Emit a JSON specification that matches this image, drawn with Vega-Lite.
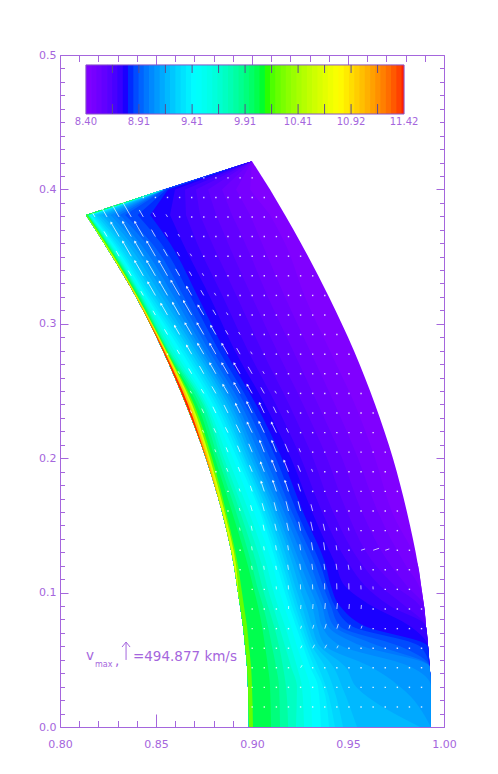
{"$schema":"https://vega.github.io/schema/vega-lite/v6.json","width":384,"height":672,"autosize":{"type":"none"},"padding":{"left":60,"top":55,"right":54,"bottom":47},"background":"white","config":{"view":{"stroke":null}},
"datasets":{
"field":[
{"y":0,"l":0.8984,"840":0.9932,"845":0.9932,"850":0.9932,"855":0.9932,"860":0.9932,"865":0.9932,"870":0.9932,"875":0.9932,"880":0.9932,"885":0.9932,"890":0.9932,"895":0.9932,"900":0.9932,"905":0.9932,"910":0.9932,"915":0.9875,"920":0.9547,"925":0.9474,"930":0.9432,"935":0.9401,"940":0.9359,"950":0.9313,"960":0.9271,"970":0.9229,"980":0.9188,"990":0.9146,"1000":0.9099,"1020":0.9005,"1060":0.8984,"1100":0.8984,"1140":0.8984},
{"y":0.03,"l":0.8979,"840":0.9932,"845":0.9932,"850":0.9932,"855":0.9932,"860":0.9932,"865":0.9932,"870":0.9932,"875":0.9932,"880":0.9932,"885":0.9932,"890":0.9932,"895":0.9932,"900":0.9932,"905":0.9932,"910":0.9771,"915":0.9542,"920":0.9469,"925":0.9422,"930":0.9385,"935":0.937,"940":0.9344,"950":0.9302,"960":0.926,"970":0.9234,"980":0.9177,"990":0.9141,"1000":0.9094,"1020":0.9,"1060":0.8979,"1100":0.8979,"1140":0.8979},
{"y":0.045,"l":0.8974,"840":0.9925,"845":0.9925,"850":0.9925,"855":0.9925,"860":0.9925,"865":0.9925,"870":0.9925,"875":0.9925,"880":0.9925,"885":0.9925,"890":0.9925,"895":0.9925,"900":0.9925,"905":0.9823,"910":0.9615,"915":0.9484,"920":0.9422,"925":0.938,"930":0.9344,"935":0.9323,"940":0.9302,"950":0.9271,"960":0.9234,"970":0.9203,"980":0.9161,"990":0.9125,"1000":0.9083,"1020":0.8995,"1060":0.8974,"1100":0.8974,"1140":0.8974},
{"y":0.06,"l":0.8964,"840":0.9917,"845":0.9917,"850":0.9917,"855":0.9917,"860":0.9917,"865":0.9917,"870":0.9917,"875":0.9917,"880":0.9917,"885":0.9875,"890":0.9771,"895":0.9667,"900":0.9578,"905":0.9469,"910":0.9385,"915":0.9354,"920":0.9333,"925":0.9313,"930":0.9297,"935":0.9281,"940":0.9266,"950":0.9234,"960":0.9203,"970":0.9172,"980":0.9141,"990":0.9104,"1000":0.9068,"1020":0.8984,"1060":0.8964,"1100":0.8964,"1140":0.8964},
{"y":0.075,"l":0.8953,"840":0.9906,"845":0.9906,"850":0.9906,"855":0.9906,"860":0.9906,"865":0.9906,"870":0.9906,"875":0.9823,"880":0.9589,"885":0.9521,"890":0.9458,"895":0.9427,"900":0.9396,"905":0.9365,"910":0.9339,"915":0.9313,"920":0.9292,"925":0.9276,"930":0.926,"935":0.9245,"940":0.9229,"950":0.9203,"960":0.9172,"970":0.9141,"980":0.9115,"990":0.9083,"1000":0.9052,"1020":0.8974,"1060":0.8953,"1100":0.8953,"1140":0.8953},
{"y":0.09,"l":0.8938,"840":0.9896,"845":0.9896,"850":0.9896,"855":0.9896,"860":0.9875,"865":0.9797,"870":0.9719,"875":0.9625,"880":0.9458,"885":0.9432,"890":0.9411,"895":0.9385,"900":0.9365,"905":0.9339,"910":0.9313,"915":0.9281,"920":0.926,"925":0.924,"930":0.9224,"935":0.9208,"940":0.9193,"950":0.9167,"960":0.9135,"970":0.9109,"980":0.9083,"990":0.9057,"1000":0.9031,"1020":0.8958,"1060":0.8938,"1100":0.8938,"1140":0.8938},
{"y":0.105,"l":0.8922,"840":0.9881,"845":0.9881,"850":0.987,"855":0.9807,"860":0.9745,"865":0.9667,"870":0.9589,"875":0.9484,"880":0.9411,"885":0.9391,"890":0.937,"895":0.9344,"900":0.9323,"905":0.9297,"910":0.9271,"915":0.9245,"920":0.9224,"925":0.9208,"930":0.9193,"935":0.9177,"940":0.9161,"950":0.9135,"960":0.9104,"970":0.9078,"980":0.9052,"990":0.9026,"1000":0.9005,"1020":0.8943,"1060":0.8927,"1100":0.8922,"1140":0.8922},
{"y":0.12,"l":0.8906,"840":0.9865,"845":0.9865,"850":0.9802,"855":0.9724,"860":0.9646,"865":0.9578,"870":0.951,"875":0.9438,"880":0.9385,"885":0.9359,"890":0.9333,"895":0.9307,"900":0.9281,"905":0.9255,"910":0.9234,"915":0.9214,"920":0.9193,"925":0.9177,"930":0.9161,"935":0.9146,"940":0.913,"950":0.9109,"960":0.9078,"970":0.9052,"980":0.9026,"990":0.9,"1000":0.8979,"1020":0.8927,"1060":0.8917,"1100":0.8906,"1140":0.8906},
{"y":0.16,"l":0.8844,"840":0.9807,"845":0.9729,"850":0.9656,"855":0.9573,"860":0.9495,"865":0.9422,"870":0.9365,"875":0.9313,"880":0.9266,"885":0.9234,"890":0.9208,"895":0.9188,"900":0.9167,"905":0.9148,"910":0.913,"915":0.9115,"920":0.9099,"925":0.9083,"930":0.9068,"935":0.9052,"940":0.9042,"950":0.901,"960":0.8984,"970":0.8958,"980":0.8938,"990":0.8917,"1000":0.8896,"1020":0.8865,"1060":0.8857,"1100":0.8844,"1140":0.8844},
{"y":0.2,"l":0.876,"840":0.9734,"845":0.9641,"850":0.9552,"855":0.9469,"860":0.9391,"865":0.9318,"870":0.9255,"875":0.9203,"880":0.9156,"885":0.9125,"890":0.9094,"895":0.907,"900":0.9047,"905":0.9028,"910":0.901,"915":0.8995,"920":0.8979,"925":0.8964,"930":0.8953,"935":0.8938,"940":0.8922,"950":0.8901,"960":0.8875,"970":0.8854,"980":0.8839,"990":0.8823,"1000":0.8807,"1020":0.8792,"1060":0.8781,"1100":0.8771,"1140":0.8762},
{"y":0.24,"l":0.8656,"840":0.9641,"845":0.9536,"850":0.9432,"855":0.9344,"860":0.9266,"865":0.9193,"870":0.9125,"875":0.9068,"880":0.9021,"885":0.8992,"890":0.8964,"895":0.8943,"900":0.8922,"905":0.8906,"910":0.8891,"915":0.8875,"920":0.8859,"925":0.8844,"930":0.8828,"935":0.8813,"940":0.8797,"950":0.8781,"960":0.8766,"970":0.8755,"980":0.8745,"990":0.8729,"1000":0.8714,"1020":0.8698,"1060":0.8688,"1100":0.8677,"1140":0.8667},
{"y":0.28,"l":0.8536,"840":0.9531,"845":0.9406,"850":0.9302,"855":0.9214,"860":0.913,"865":0.9052,"870":0.8979,"875":0.8911,"880":0.8859,"885":0.8828,"890":0.8797,"895":0.8776,"900":0.8755,"905":0.8739,"910":0.8724,"915":0.8708,"920":0.8693,"925":0.8677,"930":0.8661,"935":0.8646,"940":0.863,"950":0.8609,"960":0.8594,"970":0.8578,"980":0.8568,"990":0.8563,"1000":0.8557,"1020":0.8555,"1060":0.8552,"1100":0.8547,"1140":0.8542},
{"y":0.32,"l":0.8396,"840":0.9401,"845":0.9276,"850":0.9172,"855":0.9083,"860":0.9,"865":0.8922,"870":0.8849,"875":0.8781,"880":0.8719,"885":0.8682,"890":0.8646,"895":0.862,"900":0.8594,"905":0.8573,"910":0.8552,"915":0.8531,"920":0.851,"925":0.8495,"930":0.8479,"935":0.8464,"940":0.8453,"950":0.8443,"960":0.8432,"970":0.8427,"980":0.8422,"990":0.8417,"1000":0.8411,"1020":0.8406,"1060":0.8404,"1100":0.8401,"1140":0.8396},
{"y":0.36,"l":0.8229,"840":0.9255,"845":0.9172,"850":0.9052,"855":0.8964,"860":0.8875,"865":0.8792,"870":0.8714,"875":0.864,"880":0.8573,"885":0.8526,"890":0.8479,"895":0.8448,"900":0.8417,"905":0.8393,"910":0.837,"915":0.8349,"920":0.8328,"925":0.8313,"930":0.8297,"935":0.8286,"940":0.8276,"950":0.8266,"960":0.826,"970":0.8255,"980":0.825,"990":0.8245,"1000":0.8242,"1020":0.824,"1060":0.8234,"1100":0.8229,"1140":0.8229},
{"y":0.381,"l":0.8135,"840":0.9172,"845":0.9094,"850":0.899,"855":0.8896,"860":0.8813,"865":0.8729,"870":0.8656,"875":0.8573,"880":0.8469,"885":0.8404,"890":0.8339,"895":0.8312,"900":0.8286,"905":0.8263,"910":0.824,"915":0.8219,"920":0.8203,"925":0.8188,"930":0.8177,"935":0.8167,"940":0.8161,"950":0.8156,"960":0.8154,"970":0.8151,"980":0.8148,"990":0.8146,"1000":0.8143,"1020":0.8141,"1060":0.8135,"1100":0.8135,"1140":0.8135},
{"y":0.4,"l":0.8542,"840":0.9094,"845":0.899,"850":0.8917,"855":0.8844,"860":0.8771,"865":0.8708,"870":0.8651,"875":0.8599,"880":0.8563,"885":0.8555,"890":0.8547,"895":0.8544,"900":0.8542,"905":0.8542,"910":0.8542,"915":0.8542,"920":0.8542,"925":0.8542,"930":0.8542,"935":0.8542,"940":0.8542,"950":0.8542,"960":0.8542,"970":0.8542,"980":0.8542,"990":0.8542,"1000":0.8542,"1020":0.8542,"1060":0.8542,"1100":0.8542,"1140":0.8542},
{"y":0.421,"l":0.9,"840":0.9,"845":0.9,"850":0.9,"855":0.9,"860":0.9,"865":0.9,"870":0.9,"875":0.9,"880":0.9,"885":0.9,"890":0.9,"895":0.9,"900":0.9,"905":0.9,"910":0.9,"915":0.9,"920":0.9,"925":0.9,"930":0.9,"935":0.9,"940":0.9,"950":0.9,"960":0.9,"970":0.9,"980":0.9,"990":0.9,"1000":0.9,"1020":0.9,"1060":0.9,"1100":0.9,"1140":0.9}
],
"bar":[
{"v":840,"x":0.8135,"x2":0.8166},{"v":845,"x":0.8162,"x2":0.8194},{"v":850,"x":0.819,"x2":0.8221},{"v":855,"x":0.8217,"x2":0.8249},{"v":860,"x":0.8245,"x2":0.8276},{"v":865,"x":0.8272,"x2":0.8303},{"v":870,"x":0.8299,"x2":0.8331},{"v":875,"x":0.8327,"x2":0.8358},{"v":880,"x":0.8354,"x2":0.8386},{"v":885,"x":0.8382,"x2":0.8413},{"v":890,"x":0.8409,"x2":0.844},{"v":895,"x":0.8436,"x2":0.8468},{"v":900,"x":0.8464,"x2":0.8495},{"v":905,"x":0.8491,"x2":0.8523},{"v":910,"x":0.8519,"x2":0.855},{"v":915,"x":0.8546,"x2":0.8577},{"v":920,"x":0.8573,"x2":0.8605},{"v":925,"x":0.8601,"x2":0.8632},{"v":930,"x":0.8628,"x2":0.866},{"v":935,"x":0.8656,"x2":0.8687},{"v":940,"x":0.8683,"x2":0.8714},{"v":945,"x":0.871,"x2":0.8742},{"v":950,"x":0.8738,"x2":0.8769},{"v":955,"x":0.8765,"x2":0.8797},{"v":960,"x":0.8793,"x2":0.8824},{"v":965,"x":0.882,"x2":0.8851},{"v":970,"x":0.8847,"x2":0.8879},{"v":975,"x":0.8875,"x2":0.8906},{"v":980,"x":0.8902,"x2":0.8934},{"v":985,"x":0.893,"x2":0.8961},{"v":990,"x":0.8957,"x2":0.8988},{"v":995,"x":0.8984,"x2":0.9016},{"v":1000,"x":0.9012,"x2":0.9043},{"v":1005,"x":0.9039,"x2":0.9071},{"v":1010,"x":0.9067,"x2":0.9098},{"v":1015,"x":0.9094,"x2":0.9125},{"v":1020,"x":0.9121,"x2":0.9153},{"v":1025,"x":0.9149,"x2":0.918},{"v":1030,"x":0.9176,"x2":0.9208},{"v":1035,"x":0.9204,"x2":0.9235},{"v":1040,"x":0.9231,"x2":0.9262},{"v":1045,"x":0.9258,"x2":0.929},{"v":1050,"x":0.9286,"x2":0.9317},{"v":1055,"x":0.9313,"x2":0.9345},{"v":1060,"x":0.9341,"x2":0.9372},{"v":1065,"x":0.9368,"x2":0.9399},{"v":1070,"x":0.9395,"x2":0.9427},{"v":1075,"x":0.9423,"x2":0.9454},{"v":1080,"x":0.945,"x2":0.9482},{"v":1085,"x":0.9478,"x2":0.9509},{"v":1090,"x":0.9505,"x2":0.9536},{"v":1095,"x":0.9532,"x2":0.9564},{"v":1100,"x":0.956,"x2":0.9591},{"v":1105,"x":0.9587,"x2":0.9619},{"v":1110,"x":0.9615,"x2":0.9646},{"v":1115,"x":0.9642,"x2":0.9673},{"v":1120,"x":0.9669,"x2":0.9701},{"v":1125,"x":0.9697,"x2":0.9728},{"v":1130,"x":0.9724,"x2":0.9756},{"v":1135,"x":0.9752,"x2":0.9783},{"v":1140,"x":0.9779,"x2":0.9792}
],
"arrows":[
{"x":0.8182,"y":0.3795,"x2":0.8169,"y2":0.3827},{"x":0.8245,"y":0.3795,"x2":0.8219,"y2":0.3859,"a":-30},{"x":0.8308,"y":0.3795,"x2":0.8269,"y2":0.3892,"a":-30},{"x":0.8371,"y":0.3795,"x2":0.8324,"y2":0.3911,"a":-30},{"x":0.8434,"y":0.3795,"x2":0.8413,"y2":0.3847},{"x":0.8497,"y":0.3795,"x2":0.8484,"y2":0.3827},{"x":0.856,"y":0.3795,"x2":0.8552,"y2":0.3814},
{"x":0.8245,"y":0.3649,"x2":0.8229,"y2":0.3688},{"x":0.8308,"y":0.3649,"x2":0.8266,"y2":0.3752,"a":-30},{"x":0.8371,"y":0.3649,"x2":0.8327,"y2":0.3758,"a":-30},{"x":0.8434,"y":0.3649,"x2":0.839,"y2":0.3758,"a":-30},{"x":0.8497,"y":0.3649,"x2":0.8476,"y2":0.3701},{"x":0.856,"y":0.3649,"x2":0.8547,"y2":0.3681},{"x":0.8623,"y":0.3649,"x2":0.8615,"y2":0.3668},
{"x":0.8308,"y":0.3503,"x2":0.8292,"y2":0.3542},{"x":0.8371,"y":0.3503,"x2":0.8327,"y2":0.3612,"a":-30},{"x":0.8434,"y":0.3503,"x2":0.839,"y2":0.3612,"a":-30},{"x":0.8497,"y":0.3503,"x2":0.8453,"y2":0.3612,"a":-30},{"x":0.856,"y":0.3503,"x2":0.8539,"y2":0.3555},{"x":0.8623,"y":0.3503,"x2":0.861,"y2":0.3535},{"x":0.8686,"y":0.3503,"x2":0.8678,"y2":0.3522},
{"x":0.8371,"y":0.3357,"x2":0.8355,"y2":0.3396},{"x":0.8434,"y":0.3357,"x2":0.839,"y2":0.3466,"a":-30},{"x":0.8497,"y":0.3357,"x2":0.8453,"y2":0.3466,"a":-30},{"x":0.856,"y":0.3357,"x2":0.8516,"y2":0.3466,"a":-30},{"x":0.8623,"y":0.3357,"x2":0.8602,"y2":0.3409},{"x":0.8686,"y":0.3357,"x2":0.8673,"y2":0.3389},{"x":0.8749,"y":0.3357,"x2":0.8741,"y2":0.3376},
{"x":0.8434,"y":0.3211,"x2":0.8421,"y2":0.3243},{"x":0.8497,"y":0.3211,"x2":0.8458,"y2":0.3308,"a":-30},{"x":0.856,"y":0.3211,"x2":0.8518,"y2":0.3314,"a":-30},{"x":0.8623,"y":0.3211,"x2":0.8579,"y2":0.332,"a":-30},{"x":0.8686,"y":0.3211,"x2":0.866,"y2":0.3275,"a":-30},{"x":0.8749,"y":0.3211,"x2":0.8733,"y2":0.325},{"x":0.8812,"y":0.3211,"x2":0.8804,"y2":0.323},
{"x":0.8497,"y":0.3065,"x2":0.8484,"y2":0.3097},{"x":0.856,"y":0.3065,"x2":0.8526,"y2":0.3149,"a":-30},{"x":0.8623,"y":0.3065,"x2":0.8587,"y2":0.3155,"a":-30},{"x":0.8686,"y":0.3065,"x2":0.8644,"y2":0.3168,"a":-30},{"x":0.8749,"y":0.3065,"x2":0.872,"y2":0.3136,"a":-30},{"x":0.8812,"y":0.3065,"x2":0.8796,"y2":0.3104},{"x":0.8875,"y":0.3065,"x2":0.8867,"y2":0.3084},
{"x":0.856,"y":0.292,"x2":0.8544,"y2":0.2959},{"x":0.8623,"y":0.292,"x2":0.8597,"y2":0.2984,"a":-30},{"x":0.8686,"y":0.292,"x2":0.8652,"y2":0.3004,"a":-30},{"x":0.8749,"y":0.292,"x2":0.8715,"y2":0.3004,"a":-30},{"x":0.8812,"y":0.292,"x2":0.8786,"y2":0.2984,"a":-30},{"x":0.8875,"y":0.292,"x2":0.8862,"y2":0.2952},{"x":0.8938,"y":0.292,"x2":0.893,"y2":0.2939},
{"x":0.8623,"y":0.2774,"x2":0.861,"y2":0.2806},{"x":0.8686,"y":0.2774,"x2":0.866,"y2":0.2838,"a":-30},{"x":0.8749,"y":0.2774,"x2":0.8718,"y2":0.2851,"a":-30},{"x":0.8812,"y":0.2774,"x2":0.8781,"y2":0.2851,"a":-30},{"x":0.8875,"y":0.2774,"x2":0.8844,"y2":0.2851,"a":-30},{"x":0.8938,"y":0.2774,"x2":0.892,"y2":0.2819},{"x":0.9001,"y":0.2774,"x2":0.8993,"y2":0.2793},
{"x":0.8623,"y":0.2628,"x2":0.8615,"y2":0.2647},{"x":0.8686,"y":0.2628,"x2":0.867,"y2":0.2667},{"x":0.8749,"y":0.2628,"x2":0.8726,"y2":0.2686},{"x":0.8812,"y":0.2628,"x2":0.8781,"y2":0.2705,"a":-30},{"x":0.8875,"y":0.2628,"x2":0.8844,"y2":0.2705,"a":-30},{"x":0.8938,"y":0.2628,"x2":0.8907,"y2":0.2705,"a":-30},{"x":0.9001,"y":0.2628,"x2":0.898,"y2":0.268},{"x":0.9064,"y":0.2628,"x2":0.9056,"y2":0.2647},
{"x":0.8686,"y":0.2482,"x2":0.8678,"y2":0.2501},{"x":0.8749,"y":0.2482,"x2":0.8736,"y2":0.2514},{"x":0.8812,"y":0.2482,"x2":0.8791,"y2":0.2534},{"x":0.8875,"y":0.2482,"x2":0.8849,"y2":0.2546,"a":-30},{"x":0.8938,"y":0.2482,"x2":0.8907,"y2":0.2559,"a":-30},{"x":0.9001,"y":0.2482,"x2":0.8975,"y2":0.2546,"a":-30},{"x":0.9064,"y":0.2482,"x2":0.9046,"y2":0.2527},{"x":0.9127,"y":0.2482,"x2":0.9119,"y2":0.2501},
{"x":0.8686,"y":0.2336,"x2":0.8679,"y2":0.2356},{"x":0.8749,"y":0.2336,"x2":0.8738,"y2":0.2369},{"x":0.8812,"y":0.2336,"x2":0.8796,"y2":0.2383},{"x":0.8875,"y":0.2336,"x2":0.8854,"y2":0.2396},{"x":0.8938,"y":0.2336,"x2":0.8915,"y2":0.2403,"a":-26},{"x":0.9001,"y":0.2336,"x2":0.8974,"y2":0.2416,"a":-26},{"x":0.9064,"y":0.2336,"x2":0.9039,"y2":0.241,"a":-26},{"x":0.9127,"y":0.2336,"x2":0.9111,"y2":0.2383},{"x":0.919,"y":0.2336,"x2":0.9183,"y2":0.2356},
{"x":0.8749,"y":0.219,"x2":0.8742,"y2":0.221},{"x":0.8812,"y":0.219,"x2":0.8801,"y2":0.2223},{"x":0.8875,"y":0.219,"x2":0.8861,"y2":0.223},{"x":0.8938,"y":0.219,"x2":0.8917,"y2":0.225},{"x":0.9001,"y":0.219,"x2":0.8976,"y2":0.2264,"a":-26},{"x":0.9064,"y":0.219,"x2":0.9037,"y2":0.227,"a":-26},{"x":0.9127,"y":0.219,"x2":0.9102,"y2":0.2264,"a":-26},{"x":0.919,"y":0.219,"x2":0.9179,"y2":0.2223},
{"x":0.8812,"y":0.2045,"x2":0.8806,"y2":0.2066},{"x":0.8875,"y":0.2045,"x2":0.8865,"y2":0.208},{"x":0.8938,"y":0.2045,"x2":0.8924,"y2":0.2093},{"x":0.9001,"y":0.2045,"x2":0.8983,"y2":0.2107},{"x":0.9064,"y":0.2045,"x2":0.9041,"y2":0.2128,"a":-22},{"x":0.9127,"y":0.2045,"x2":0.9104,"y2":0.2128,"a":-22},{"x":0.919,"y":0.2045,"x2":0.9172,"y2":0.2107},{"x":0.9253,"y":0.2045,"x2":0.9245,"y2":0.2073},
{"x":0.8875,"y":0.1899,"x2":0.8867,"y2":0.1927},{"x":0.8938,"y":0.1899,"x2":0.8928,"y2":0.1934},{"x":0.9001,"y":0.1899,"x2":0.8987,"y2":0.1947},{"x":0.9064,"y":0.1899,"x2":0.9045,"y2":0.1968,"a":-22},{"x":0.9127,"y":0.1899,"x2":0.9104,"y2":0.1982,"a":-22},{"x":0.919,"y":0.1899,"x2":0.9167,"y2":0.1982,"a":-22},{"x":0.9253,"y":0.1899,"x2":0.9239,"y2":0.1947},{"x":0.9316,"y":0.1899,"x2":0.931,"y2":0.192},
{"x":0.8938,"y":0.1753,"x2":0.8933,"y2":0.1774},{"x":0.9001,"y":0.1753,"x2":0.8991,"y2":0.1795},{"x":0.9064,"y":0.1753,"x2":0.9048,"y2":0.1824,"a":-18},{"x":0.9127,"y":0.1753,"x2":0.9109,"y2":0.1831,"a":-18},{"x":0.919,"y":0.1753,"x2":0.9172,"y2":0.1831,"a":-18},{"x":0.9253,"y":0.1753,"x2":0.924,"y2":0.181},
{"x":0.8938,"y":0.1607,"x2":0.8934,"y2":0.1629},{"x":0.9001,"y":0.1607,"x2":0.8993,"y2":0.165},{"x":0.9064,"y":0.1607,"x2":0.9053,"y2":0.1665},{"x":0.9127,"y":0.1607,"x2":0.9115,"y2":0.1672},{"x":0.919,"y":0.1607,"x2":0.9177,"y2":0.1679},{"x":0.9253,"y":0.1607,"x2":0.924,"y2":0.1679},{"x":0.9316,"y":0.1607,"x2":0.9307,"y2":0.1657},
{"x":0.8938,"y":0.1461,"x2":0.8935,"y2":0.1483},{"x":0.9001,"y":0.1461,"x2":0.8996,"y2":0.1497},{"x":0.9064,"y":0.1461,"x2":0.9058,"y2":0.1505},{"x":0.9127,"y":0.1461,"x2":0.9119,"y2":0.1512},{"x":0.919,"y":0.1461,"x2":0.9181,"y2":0.1519},{"x":0.9253,"y":0.1461,"x2":0.9243,"y2":0.1527},{"x":0.9316,"y":0.1461,"x2":0.9306,"y2":0.1527},{"x":0.9379,"y":0.1461,"x2":0.9371,"y2":0.1512},{"x":0.9442,"y":0.1461,"x2":0.9439,"y2":0.1483},{"x":0.9505,"y":0.1461,"x2":0.9502,"y2":0.1483},
{"x":0.9001,"y":0.1315,"x2":0.8998,"y2":0.1344},{"x":0.9064,"y":0.1315,"x2":0.9061,"y2":0.1344},{"x":0.9127,"y":0.1315,"x2":0.9123,"y2":0.1352},{"x":0.919,"y":0.1315,"x2":0.9186,"y2":0.1352},{"x":0.9253,"y":0.1315,"x2":0.9249,"y2":0.1359},{"x":0.9316,"y":0.1315,"x2":0.931,"y2":0.1374},{"x":0.9379,"y":0.1315,"x2":0.9373,"y2":0.1374},{"x":0.9442,"y":0.1315,"x2":0.9438,"y2":0.1352},{"x":0.9568,"y":0.1315,"x2":0.9589,"y2":0.1325},{"x":0.9631,"y":0.1315,"x2":0.9662,"y2":0.133},{"x":0.9694,"y":0.1315,"x2":0.9715,"y2":0.1325},
{"x":0.9001,"y":0.117,"x2":0.8998,"y2":0.1199},{"x":0.9064,"y":0.117,"x2":0.9061,"y2":0.1199},{"x":0.9127,"y":0.117,"x2":0.9124,"y2":0.1199},{"x":0.919,"y":0.117,"x2":0.9186,"y2":0.1207},{"x":0.9253,"y":0.117,"x2":0.9249,"y2":0.1214},{"x":0.9316,"y":0.117,"x2":0.9312,"y2":0.1214},{"x":0.9379,"y":0.117,"x2":0.9375,"y2":0.1214},{"x":0.9442,"y":0.117,"x2":0.9438,"y2":0.1214},{"x":0.9505,"y":0.117,"x2":0.9501,"y2":0.1207},{"x":0.9568,"y":0.117,"x2":0.9565,"y2":0.1199},
{"x":0.9127,"y":0.1024,"x2":0.9126,"y2":0.1046},{"x":0.919,"y":0.1024,"x2":0.9189,"y2":0.1054},{"x":0.9253,"y":0.1024,"x2":0.9252,"y2":0.1061},{"x":0.9316,"y":0.1024,"x2":0.9315,"y2":0.1061},{"x":0.9379,"y":0.1024,"x2":0.9378,"y2":0.1069},{"x":0.9442,"y":0.1024,"x2":0.9441,"y2":0.1069},{"x":0.9505,"y":0.1024,"x2":0.9504,"y2":0.1069},{"x":0.9568,"y":0.1024,"x2":0.9567,"y2":0.1054},{"x":0.9631,"y":0.1024,"x2":0.963,"y2":0.1046},
{"x":0.919,"y":0.0878,"x2":0.9191,"y2":0.09},{"x":0.9253,"y":0.0878,"x2":0.9255,"y2":0.0908},{"x":0.9316,"y":0.0878,"x2":0.9318,"y2":0.0915},{"x":0.9379,"y":0.0878,"x2":0.9382,"y2":0.0922},{"x":0.9442,"y":0.0878,"x2":0.9445,"y2":0.0922},{"x":0.9505,"y":0.0878,"x2":0.9507,"y2":0.0915},{"x":0.9568,"y":0.0878,"x2":0.957,"y2":0.0908},
{"x":0.9253,"y":0.0732,"x2":0.9258,"y2":0.0753},{"x":0.9316,"y":0.0732,"x2":0.9322,"y2":0.076},{"x":0.9379,"y":0.0732,"x2":0.9387,"y2":0.0767},{"x":0.9442,"y":0.0732,"x2":0.945,"y2":0.0767},{"x":0.9505,"y":0.0732,"x2":0.9511,"y2":0.076},{"x":0.9568,"y":0.0732,"x2":0.9573,"y2":0.0753},
{"x":0.9253,"y":0.0586,"x2":0.926,"y2":0.0606},{"x":0.9316,"y":0.0586,"x2":0.9326,"y2":0.0612},{"x":0.9379,"y":0.0586,"x2":0.9389,"y2":0.0612},{"x":0.9442,"y":0.0586,"x2":0.9449,"y2":0.0606},
{"x":0.9253,"y":0.0441,"x2":0.9261,"y2":0.046}
],
"dots":[
{"x":0.9001,"y":0.0149},{"x":0.9064,"y":0.0149},{"x":0.9127,"y":0.0149},{"x":0.919,"y":0.0149},{"x":0.9253,"y":0.0149},{"x":0.9316,"y":0.0149},{"x":0.9379,"y":0.0149},{"x":0.9442,"y":0.0149},{"x":0.9505,"y":0.0149},{"x":0.9568,"y":0.0149},{"x":0.9631,"y":0.0149},{"x":0.9694,"y":0.0149},{"x":0.9757,"y":0.0149},{"x":0.982,"y":0.0149},{"x":0.9883,"y":0.0149},
{"x":0.9001,"y":0.0295},{"x":0.9064,"y":0.0295},{"x":0.9127,"y":0.0295},{"x":0.919,"y":0.0295},{"x":0.9253,"y":0.0295},{"x":0.9316,"y":0.0295},{"x":0.9379,"y":0.0295},{"x":0.9442,"y":0.0295},{"x":0.9505,"y":0.0295},{"x":0.9568,"y":0.0295},{"x":0.9631,"y":0.0295},{"x":0.9694,"y":0.0295},{"x":0.9757,"y":0.0295},{"x":0.982,"y":0.0295},{"x":0.9883,"y":0.0295},
{"x":0.9001,"y":0.0441},{"x":0.9064,"y":0.0441},{"x":0.9127,"y":0.0441},{"x":0.919,"y":0.0441},{"x":0.9316,"y":0.0441},{"x":0.9379,"y":0.0441},{"x":0.9442,"y":0.0441},{"x":0.9505,"y":0.0441},{"x":0.9568,"y":0.0441},{"x":0.9631,"y":0.0441},{"x":0.9694,"y":0.0441},{"x":0.9757,"y":0.0441},{"x":0.982,"y":0.0441},{"x":0.9883,"y":0.0441},
{"x":0.9001,"y":0.0586},{"x":0.9064,"y":0.0586},{"x":0.9127,"y":0.0586},{"x":0.919,"y":0.0586},{"x":0.9505,"y":0.0586},{"x":0.9568,"y":0.0586},{"x":0.9631,"y":0.0586},{"x":0.9694,"y":0.0586},{"x":0.9757,"y":0.0586},{"x":0.982,"y":0.0586},{"x":0.9883,"y":0.0586},
{"x":0.9001,"y":0.0732},{"x":0.9064,"y":0.0732},{"x":0.9127,"y":0.0732},{"x":0.919,"y":0.0732},{"x":0.9631,"y":0.0732},{"x":0.9694,"y":0.0732},{"x":0.9757,"y":0.0732},{"x":0.982,"y":0.0732},{"x":0.9883,"y":0.0732},
{"x":0.9001,"y":0.0878},{"x":0.9064,"y":0.0878},{"x":0.9127,"y":0.0878},{"x":0.9631,"y":0.0878},{"x":0.9694,"y":0.0878},{"x":0.9757,"y":0.0878},{"x":0.982,"y":0.0878},{"x":0.9883,"y":0.0878},
{"x":0.9001,"y":0.1024},{"x":0.9064,"y":0.1024},{"x":0.9694,"y":0.1024},{"x":0.9757,"y":0.1024},{"x":0.982,"y":0.1024},
{"x":0.8938,"y":0.117},{"x":0.9631,"y":0.117},{"x":0.9694,"y":0.117},{"x":0.9757,"y":0.117},{"x":0.982,"y":0.117},
{"x":0.8938,"y":0.1315},{"x":0.9505,"y":0.1315},{"x":0.9757,"y":0.1315},{"x":0.982,"y":0.1315},
{"x":0.9568,"y":0.1461},{"x":0.9631,"y":0.1461},{"x":0.9694,"y":0.1461},{"x":0.9757,"y":0.1461},
{"x":0.8875,"y":0.1607},{"x":0.9379,"y":0.1607},{"x":0.9442,"y":0.1607},{"x":0.9505,"y":0.1607},{"x":0.9568,"y":0.1607},{"x":0.9631,"y":0.1607},{"x":0.9694,"y":0.1607},{"x":0.9757,"y":0.1607},
{"x":0.8875,"y":0.1753},{"x":0.9316,"y":0.1753},{"x":0.9379,"y":0.1753},{"x":0.9442,"y":0.1753},{"x":0.9505,"y":0.1753},{"x":0.9568,"y":0.1753},{"x":0.9631,"y":0.1753},{"x":0.9694,"y":0.1753},{"x":0.9757,"y":0.1753},
{"x":0.8812,"y":0.1899},{"x":0.9379,"y":0.1899},{"x":0.9442,"y":0.1899},{"x":0.9505,"y":0.1899},{"x":0.9568,"y":0.1899},{"x":0.9631,"y":0.1899},{"x":0.9694,"y":0.1899},
{"x":0.9316,"y":0.2045},{"x":0.9379,"y":0.2045},{"x":0.9442,"y":0.2045},{"x":0.9505,"y":0.2045},{"x":0.9568,"y":0.2045},{"x":0.9631,"y":0.2045},{"x":0.9694,"y":0.2045},
{"x":0.9253,"y":0.219},{"x":0.9316,"y":0.219},{"x":0.9379,"y":0.219},{"x":0.9442,"y":0.219},{"x":0.9505,"y":0.219},{"x":0.9568,"y":0.219},{"x":0.9631,"y":0.219},
{"x":0.9253,"y":0.2336},{"x":0.9316,"y":0.2336},{"x":0.9379,"y":0.2336},{"x":0.9442,"y":0.2336},{"x":0.9505,"y":0.2336},{"x":0.9568,"y":0.2336},{"x":0.9631,"y":0.2336},
{"x":0.919,"y":0.2482},{"x":0.9253,"y":0.2482},{"x":0.9316,"y":0.2482},{"x":0.9379,"y":0.2482},{"x":0.9442,"y":0.2482},{"x":0.9505,"y":0.2482},{"x":0.9568,"y":0.2482},
{"x":0.9127,"y":0.2628},{"x":0.919,"y":0.2628},{"x":0.9253,"y":0.2628},{"x":0.9316,"y":0.2628},{"x":0.9379,"y":0.2628},{"x":0.9442,"y":0.2628},{"x":0.9505,"y":0.2628},
{"x":0.856,"y":0.2774},{"x":0.9064,"y":0.2774},{"x":0.9127,"y":0.2774},{"x":0.919,"y":0.2774},{"x":0.9253,"y":0.2774},{"x":0.9316,"y":0.2774},{"x":0.9379,"y":0.2774},{"x":0.9442,"y":0.2774},{"x":0.9505,"y":0.2774},
{"x":0.9001,"y":0.292},{"x":0.9064,"y":0.292},{"x":0.9127,"y":0.292},{"x":0.919,"y":0.292},{"x":0.9253,"y":0.292},{"x":0.9316,"y":0.292},{"x":0.9379,"y":0.292},{"x":0.9442,"y":0.292},
{"x":0.8938,"y":0.3065},{"x":0.9001,"y":0.3065},{"x":0.9064,"y":0.3065},{"x":0.9127,"y":0.3065},{"x":0.919,"y":0.3065},{"x":0.9253,"y":0.3065},{"x":0.9316,"y":0.3065},{"x":0.9379,"y":0.3065},
{"x":0.8875,"y":0.3211},{"x":0.8938,"y":0.3211},{"x":0.9001,"y":0.3211},{"x":0.9064,"y":0.3211},{"x":0.9127,"y":0.3211},{"x":0.919,"y":0.3211},{"x":0.9253,"y":0.3211},{"x":0.9316,"y":0.3211},{"x":0.9379,"y":0.3211},
{"x":0.8812,"y":0.3357},{"x":0.8875,"y":0.3357},{"x":0.8938,"y":0.3357},{"x":0.9001,"y":0.3357},{"x":0.9064,"y":0.3357},{"x":0.9127,"y":0.3357},{"x":0.919,"y":0.3357},{"x":0.9253,"y":0.3357},{"x":0.9316,"y":0.3357},
{"x":0.8749,"y":0.3503},{"x":0.8812,"y":0.3503},{"x":0.8875,"y":0.3503},{"x":0.8938,"y":0.3503},{"x":0.9001,"y":0.3503},{"x":0.9064,"y":0.3503},{"x":0.9127,"y":0.3503},{"x":0.919,"y":0.3503},{"x":0.9253,"y":0.3503},
{"x":0.8686,"y":0.3649},{"x":0.8749,"y":0.3649},{"x":0.8812,"y":0.3649},{"x":0.8875,"y":0.3649},{"x":0.8938,"y":0.3649},{"x":0.9001,"y":0.3649},{"x":0.9064,"y":0.3649},{"x":0.9127,"y":0.3649},{"x":0.919,"y":0.3649},
{"x":0.8623,"y":0.3795},{"x":0.8686,"y":0.3795},{"x":0.8749,"y":0.3795},{"x":0.8812,"y":0.3795},{"x":0.8875,"y":0.3795},{"x":0.8938,"y":0.3795},{"x":0.9001,"y":0.3795},{"x":0.9064,"y":0.3795},{"x":0.9127,"y":0.3795},
{"x":0.8434,"y":0.394},{"x":0.8497,"y":0.394},{"x":0.856,"y":0.394},{"x":0.8623,"y":0.394},{"x":0.8686,"y":0.394},{"x":0.8749,"y":0.394},{"x":0.8812,"y":0.394},{"x":0.8875,"y":0.394},{"x":0.8938,"y":0.394},{"x":0.9001,"y":0.394},{"x":0.9064,"y":0.394},
{"x":0.8749,"y":0.4086},{"x":0.8812,"y":0.4086},{"x":0.8875,"y":0.4086},{"x":0.8938,"y":0.4086},{"x":0.9001,"y":0.4086}
],
"barticks":[
{"x":0.8273,"y":0.4926,"y2":0.4866},{"x":0.8411,"y":0.4926,"y2":0.4866},{"x":0.8549,"y":0.4926,"y2":0.4866},{"x":0.8688,"y":0.4926,"y2":0.4866},{"x":0.8826,"y":0.4926,"y2":0.4866},{"x":0.8964,"y":0.4926,"y2":0.4866},{"x":0.9102,"y":0.4926,"y2":0.4866},{"x":0.924,"y":0.4926,"y2":0.4866},{"x":0.9378,"y":0.4926,"y2":0.4866},{"x":0.9516,"y":0.4926,"y2":0.4866},{"x":0.9654,"y":0.4926,"y2":0.4866},
{"x":0.8273,"y":0.4561,"y2":0.4635},{"x":0.8411,"y":0.4561,"y2":0.4635},{"x":0.8549,"y":0.4561,"y2":0.4635},{"x":0.8688,"y":0.4561,"y2":0.4635},{"x":0.8826,"y":0.4561,"y2":0.4635},{"x":0.8964,"y":0.4561,"y2":0.4635},{"x":0.9102,"y":0.4561,"y2":0.4635},{"x":0.924,"y":0.4561,"y2":0.4635},{"x":0.9378,"y":0.4561,"y2":0.4635},{"x":0.9516,"y":0.4561,"y2":0.4635},{"x":0.9654,"y":0.4561,"y2":0.4635}
]
},
"layer":[
{"data":{"name":"field"},"transform":[{"filter":"datum.y<=0.381"},{"fold":["840","845","850","855","860","865","870","875","880","885","890","895","900","905","910","915","920","925","930","935","940","950","960","970","980","990","1000","1020","1060","1100","1140"],"as":["level","edge"]}],
"mark":{"type":"area","orient":"horizontal","interpolate":"monotone","clip":false},
"encoding":{
"y":{"field":"y","type":"quantitative","scale":{"domain":[0,0.5],"nice":false},
"axis":{"orient":"left","title":null,"values":[0,0.01,0.02,0.03,0.04,0.05,0.06,0.07,0.08,0.09,0.1,0.11,0.12,0.13,0.14,0.15,0.16,0.17,0.18,0.19,0.2,0.21,0.22,0.23,0.24,0.25,0.26,0.27,0.28,0.29,0.3,0.31,0.32,0.33,0.34,0.35,0.36,0.37,0.38,0.39,0.4,0.41,0.42,0.43,0.44,0.45,0.46,0.47,0.48,0.49,0.5],"labelExpr":"round(datum.value*100)%10==0 ? format(datum.value,'.1f') : ''","labelOverlap":false,"labelFont":"DejaVu Sans","labelFontSize":11,"labelColor":"#a566dd","domainColor":"#a566dd","tickColor":"#a566dd","grid":false,"tickSize":{"condition":{"test":"round(datum.value*100)%10==0","value":-8},"value":-4.5},"labelPadding":12}},
"x":{"field":"edge","type":"quantitative","stack":null,"scale":{"domain":[0.8,1],"nice":false},
"axis":{"orient":"bottom","title":null,"values":[0.8,0.81,0.82,0.83,0.84,0.85,0.86,0.87,0.88,0.89,0.9,0.91,0.92,0.93,0.94,0.95,0.96,0.97,0.98,0.99,1],"labelExpr":"round(datum.value*100)%5==0 ? format(datum.value,'.2f') : ''","labelOverlap":false,"labelFlush":false,"labelFont":"DejaVu Sans","labelFontSize":11,"labelColor":"#a566dd","domainColor":"#a566dd","tickColor":"#a566dd","grid":false,"tickSize":{"condition":{"test":"round(datum.value*100)%5==0","value":-13},"value":-6.5},"labelPadding":24}},
"x2":{"field":"l"},
"detail":{"field":"level"},
"color":{"field":"level","type":"quantitative","scale":{"domain":[840,877,941,1008,1078,1142],"range":["#8000ff","#0000ff","#00ffff","#00ff00","#ffff00","#ff0000"]},"legend":null}
}},
{"data":{"name":"field"},"transform":[{"filter":"datum.y>=0.381"},{"fold":["840","845","850","855","860","865","870","875","880","885","890","895","900","905","910","915","920","925","930","935","940","950","960","970","980","990","1000","1020","1060","1100","1140"],"as":["level","edge"]}],
"mark":{"type":"area","orient":"horizontal","interpolate":"linear","clip":false},
"encoding":{
"y":{"field":"y","type":"quantitative","scale":{"domain":[0,0.5],"nice":false},"axis":null},
"x":{"field":"edge","type":"quantitative","stack":null,"scale":{"domain":[0.8,1],"nice":false},"axis":null},
"x2":{"field":"l"},
"detail":{"field":"level"},
"color":{"field":"level","type":"quantitative","scale":{"domain":[840,877,941,1008,1078,1142],"range":["#8000ff","#0000ff","#00ffff","#00ff00","#ffff00","#ff0000"]},"legend":null}
}},
{"data":{"name":"bar"},"mark":{"type":"rect"},"encoding":{"x":{"field":"x","type":"quantitative","scale":{"domain":[0.8,1]},"axis":null},"x2":{"field":"x2"},"y":{"datum":0.4561,"type":"quantitative","scale":{"domain":[0,0.5]},"axis":null},"y2":{"datum":0.4926},"color":{"field":"v","type":"quantitative","scale":{"domain":[840,877,941,1008,1078,1142],"range":["#8000ff","#0000ff","#00ffff","#00ff00","#ffff00","#ff0000"]},"legend":null}}},
{"data":{"values":[{"x":0.8135,"x2":0.9792,"y":0.4561,"y2":0.4926}]},"mark":{"type":"rect","filled":false,"stroke":"#8a55c8","strokeWidth":1},"encoding":{"x":{"field":"x","type":"quantitative","scale":{"domain":[0.8,1]},"axis":null},"x2":{"field":"x2"},"y":{"field":"y","type":"quantitative","scale":{"domain":[0,0.5]},"axis":null},"y2":{"field":"y2"}}},
{"data":{"values":[{"x":0.8135,"t":"8.40"},{"x":0.8411,"t":"8.91"},{"x":0.8688,"t":"9.41"},{"x":0.8964,"t":"9.91"},{"x":0.924,"t":"10.41"},{"x":0.9516,"t":"10.92"},{"x":0.9792,"t":"11.42"}]},"mark":{"type":"text","align":"center","baseline":"middle","font":"DejaVu Sans","fontSize":10,"color":"#a566dd"},"encoding":{"x":{"field":"x","type":"quantitative","scale":{"domain":[0.8,1]},"axis":null},"y":{"datum":0.4501,"type":"quantitative","scale":{"domain":[0,0.5]},"axis":null},"text":{"field":"t"}}},
{"data":{"name":"arrows"},"mark":{"type":"rule","color":"white","strokeWidth":0.9,"opacity":0.8},"encoding":{"x":{"field":"x","type":"quantitative","scale":{"domain":[0.8,1]},"axis":null},"y":{"field":"y","type":"quantitative","scale":{"domain":[0,0.5]},"axis":null},"x2":{"field":"x2"},"y2":{"field":"y2"}}},
{"data":{"name":"arrows"},"transform":[{"filter":"datum.a"}],"mark":{"type":"point","shape":"triangle-up","filled":true,"color":"white","size":9,"opacity":0.9},"encoding":{"x":{"field":"x2","type":"quantitative","scale":{"domain":[0.8,1]},"axis":null},"y":{"field":"y2","type":"quantitative","scale":{"domain":[0,0.5]},"axis":null},"angle":{"field":"a","type":"quantitative","scale":null}}},
{"data":{"name":"dots"},"mark":{"type":"point","shape":"square","filled":true,"color":"white","size":2,"opacity":0.85},"encoding":{"x":{"field":"x","type":"quantitative","scale":{"domain":[0.8,1]},"axis":null},"y":{"field":"y","type":"quantitative","scale":{"domain":[0,0.5]},"axis":null}}},
{"data":{"name":"barticks"},"mark":{"type":"rule","color":"#5a4a90","strokeWidth":1},"encoding":{
"x":{"field":"x","type":"quantitative","scale":{"domain":[0.8,1]},
"axis":{"orient":"top","title":null,"values":[0.8,0.81,0.82,0.83,0.84,0.85,0.86,0.87,0.88,0.89,0.9,0.91,0.92,0.93,0.94,0.95,0.96,0.97,0.98,0.99,1],"labels":false,"domainColor":"#a566dd","tickColor":"#a566dd","grid":false,"tickSize":{"condition":{"test":"round(datum.value*100)%5==0","value":-13},"value":-6.5}}},
"y":{"field":"y","type":"quantitative","scale":{"domain":[0,0.5]},
"axis":{"orient":"right","title":null,"values":[0,0.01,0.02,0.03,0.04,0.05,0.06,0.07,0.08,0.09,0.1,0.11,0.12,0.13,0.14,0.15,0.16,0.17,0.18,0.19,0.2,0.21,0.22,0.23,0.24,0.25,0.26,0.27,0.28,0.29,0.3,0.31,0.32,0.33,0.34,0.35,0.36,0.37,0.38,0.39,0.4,0.41,0.42,0.43,0.44,0.45,0.46,0.47,0.48,0.49,0.5],"labels":false,"domainColor":"#a566dd","tickColor":"#a566dd","grid":false,"tickSize":{"condition":{"test":"round(datum.value*100)%10==0","value":-8},"value":-4.5}}},
"y2":{"field":"y2"}}},
{"data":{"values":[{"x":0.8344,"y":0.0499,"x2":0.8344,"y2":0.0632},{"x":0.8323,"y":0.0595,"x2":0.8344,"y2":0.0632},{"x":0.8365,"y":0.0595,"x2":0.8344,"y2":0.0632}]},"mark":{"type":"rule","color":"#a566dd","strokeWidth":1},"encoding":{"x":{"field":"x","type":"quantitative","scale":{"domain":[0.8,1]},"axis":null},"y":{"field":"y","type":"quantitative","scale":{"domain":[0,0.5]},"axis":null},"x2":{"field":"x2"},"y2":{"field":"y2"}}},
{"data":{"values":[{"x":0.8135,"y":0.0528,"t":"v"},{"x":0.838,"y":0.0523,"t":"=494.877 km/s"},{"x":0.8286,"y":0.049,"t":","}]},"mark":{"type":"text","align":"left","baseline":"middle","font":"DejaVu Sans","fontSize":13.5,"color":"#a566dd"},"encoding":{"x":{"field":"x","type":"quantitative","scale":{"domain":[0.8,1]},"axis":null},"y":{"field":"y","type":"quantitative","scale":{"domain":[0,0.5]},"axis":null},"text":{"field":"t"}}},
{"data":{"values":[{"x":0.8182,"y":0.0461,"t":"max"}]},"mark":{"type":"text","align":"left","baseline":"middle","font":"DejaVu Sans","fontSize":8,"color":"#a566dd"},"encoding":{"x":{"field":"x","type":"quantitative","scale":{"domain":[0.8,1]},"axis":null},"y":{"field":"y","type":"quantitative","scale":{"domain":[0,0.5]},"axis":null},"text":{"field":"t"}}}
],
"resolve":{"axis":{"x":"independent","y":"independent"}}}
